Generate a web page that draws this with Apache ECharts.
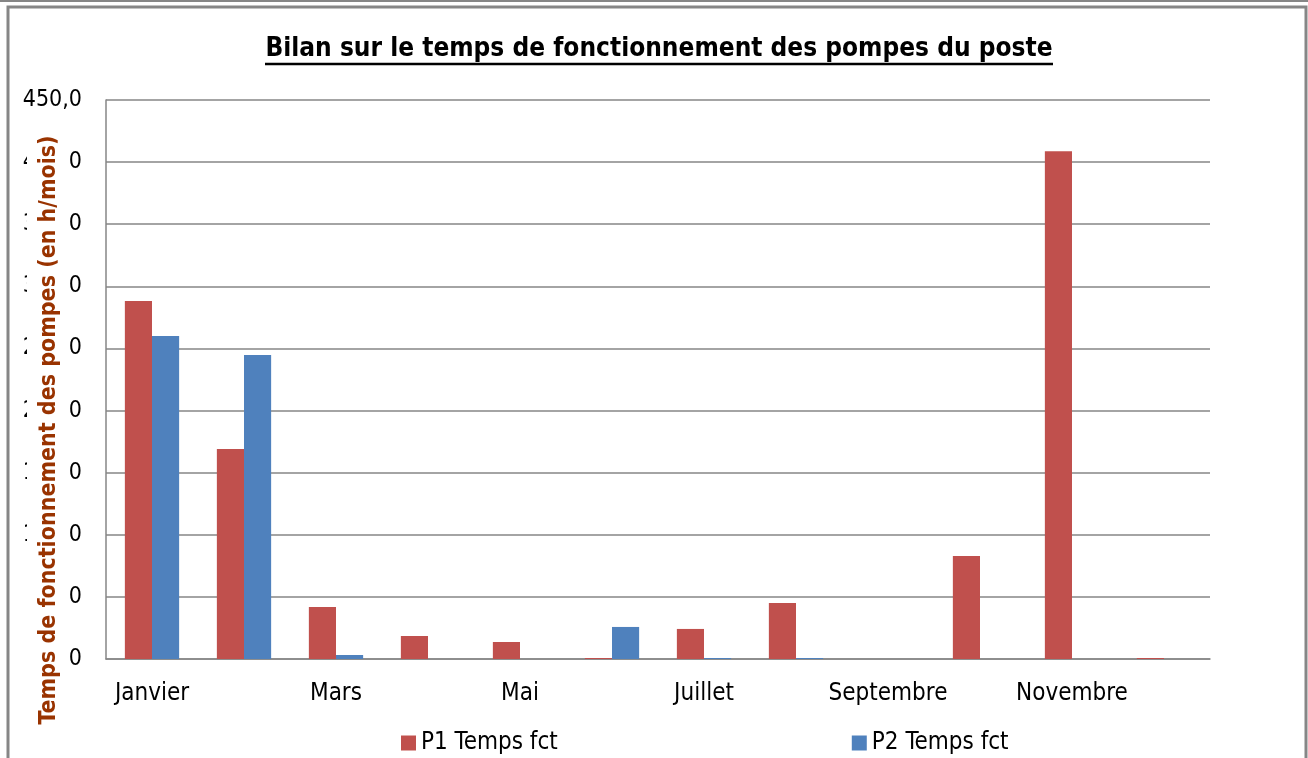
<!DOCTYPE html>
<html>
<head>
    <meta charset="utf-8" />
    <title>Bilan pompes</title>
    <style>
        html, body { margin: 0; padding: 0; background: #fff; }
        #main { width: 1308px; height: 758px; }
    </style>
</head>
<body>
    <div id="main"></div>
    <script src="https://cdn.jsdelivr.net/npm/echarts@6/dist/echarts.min.js"></script>
    <script type="text/javascript">
        var mois = ['Janvier', 'Février', 'Mars', 'Avril', 'Mai', 'Juin', 'Juillet', 'Août', 'Septembre', 'Octobre', 'Novembre', 'Décembre'];
        var p1Temps = [288.2, 169.1, 41.9, 18.5, 13.7, 0.8, 24.2, 45.1, 0, 83.0, 408.7, 0.8];
        var p2Temps = [260.0, 244.7, 3.2, 0, 0, 25.8, 0.8, 0.8, 0, 0, 0, 0];
        var nomsSeries = ['P1 Temps fct', 'P2 Temps fct'];

        var police = "'DejaVu Sans Condensed', 'Liberation Sans Narrow', sans-serif";
        var gris = '#868686';

        var myChart = echarts.init(document.getElementById('main'));
        var option = {
            animation: false,
            backgroundColor: '#fff',
            grid: { left: 106, right: 98, top: 100, bottom: 99 },
            legend: {
                data: nomsSeries,
                left: 396,
                top: 726,
                itemGap: 294,
                itemWidth: 15,
                itemHeight: 15,
                icon: 'rect',
                textStyle: { fontFamily: police, fontSize: 24, color: '#000' }
            },
            xAxis: {
                type: 'category',
                data: mois,
                axisLine: { lineStyle: { color: gris, width: 1.5 } },
                axisTick: { interval: 0, length: 9, lineStyle: { color: gris, width: 1.5 } },
                axisLabel: { interval: 1, margin: 23, fontFamily: police, fontSize: 24, color: '#000' }
            },
            yAxis: {
                type: 'value',
                min: 0,
                max: 450,
                interval: 50,
                axisLine: { show: true, lineStyle: { color: gris, width: 1.5 } },
                axisTick: { show: false },
                splitLine: { lineStyle: { color: gris, width: 1.5 } },
                axisLabel: {
                    margin: 24,
                    fontFamily: police,
                    fontSize: 23,
                    color: '#000',
                    formatter: function (v) { return v.toFixed(1).replace('.', ','); }
                }
            },
            series: [
                {
                    name: nomsSeries[0],
                    type: 'bar',
                    data: p1Temps,
                    itemStyle: { color: '#C0504D' },
                    barGap: '0%',
                    barCategoryGap: '41%'
                },
                {
                    name: nomsSeries[1],
                    type: 'bar',
                    data: p2Temps,
                    itemStyle: { color: '#4F81BD' }
                }
            ],
            graphic: [
                // cadre gris autour du graphique
                { type: 'line', z: 100, shape: { x1: 0, y1: 1, x2: 1308, y2: 1 }, style: { stroke: gris, lineWidth: 2 } },
                { type: 'rect', z: 100, shape: { x: 8, y: 7, width: 1298, height: 760 }, style: { fill: null, stroke: gris, lineWidth: 3 } },
                // titre souligné
                {
                    type: 'text', z: 100, x: 659, y: 49,
                    style: { text: 'Bilan sur le temps de fonctionnement des pompes du poste', fontFamily: police, fontWeight: 'bold', fontSize: 26, fill: '#000', align: 'center', verticalAlign: 'middle' }
                },
                { type: 'line', z: 100, shape: { x1: 265, y1: 64, x2: 1053, y2: 64 }, style: { stroke: '#000', lineWidth: 2.5 } },
                // fond blanc du titre vertical, par-dessus les graduations
                { type: 'rect', z: 99, shape: { x: 27, y: 138, width: 40, height: 586 }, style: { fill: '#fff' } },
                {
                    type: 'text', z: 100, x: 49, y: 430, rotation: Math.PI / 2,
                    style: {
                        text: 'Temps de fonctionnement des pompes (en h/mois)',
                        fontFamily: police, fontWeight: 'bold', fontSize: 23, fill: '#993300',
                        align: 'center', verticalAlign: 'middle'
                    }
                }
            ]
        };
        myChart.setOption(option);
    </script>
</body>
</html>
